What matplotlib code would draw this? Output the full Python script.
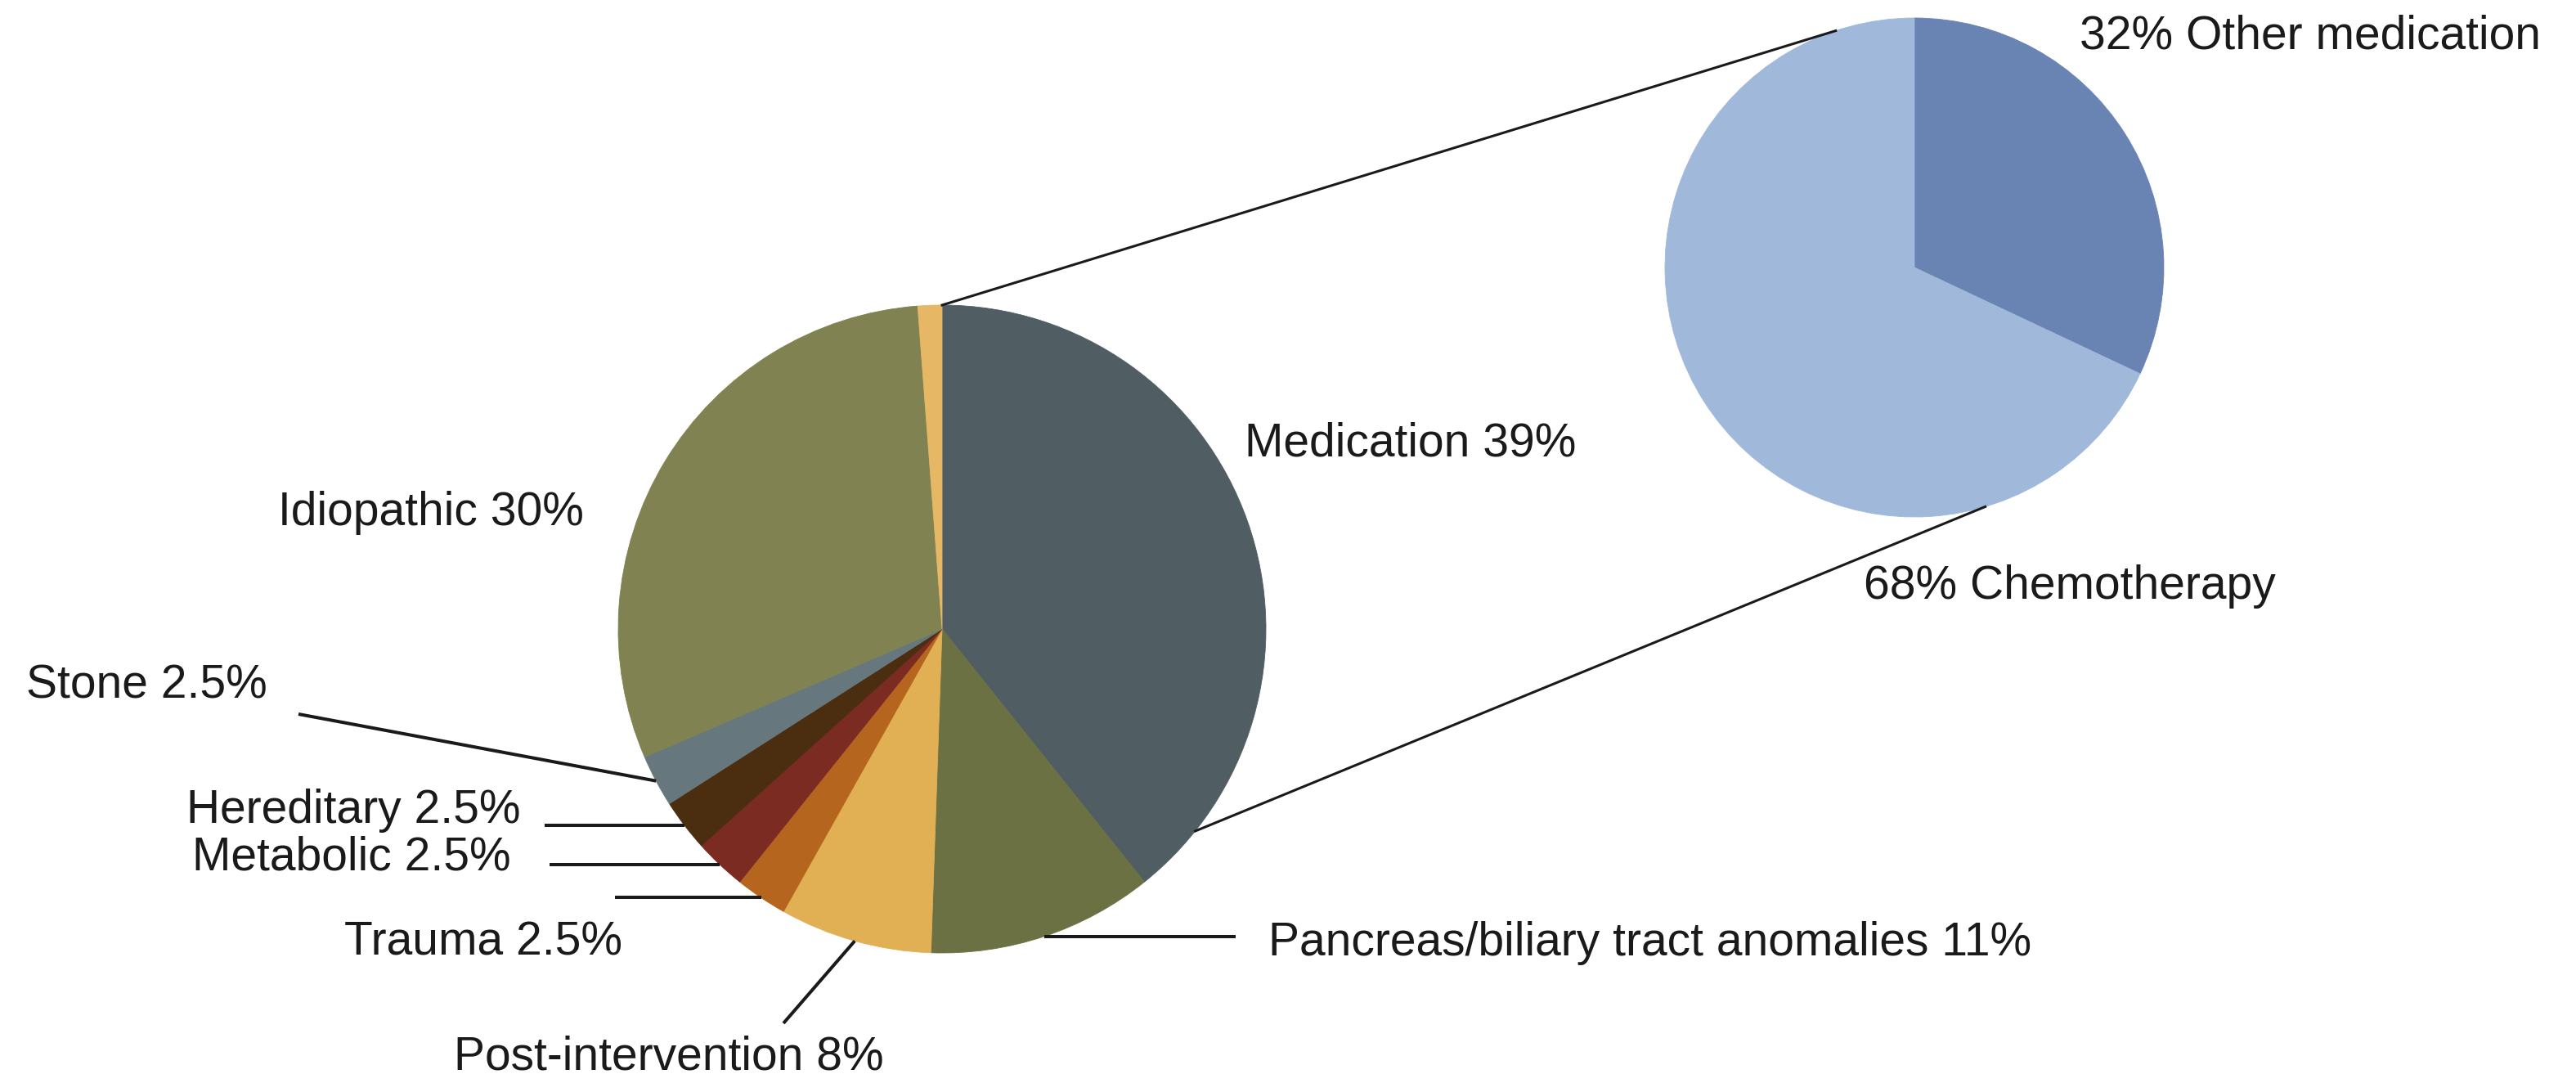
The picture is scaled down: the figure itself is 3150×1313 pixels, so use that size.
import numpy as np
import matplotlib.pyplot as plt

plt.rcParams['font.family'] = ['Liberation Sans', 'DejaVu Sans']

W, H = 3150, 1313

# main pie: causes, clockwise from 12 o'clock
causes = ['Medication', 'Pancreas/biliary tract anomalies', 'Post-intervention',
          'Trauma', 'Metabolic', 'Hereditary', 'Stone', 'Idiopathic', 'Other']
cause_shares = [39.3, 11.3, 7.6, 2.6, 2.6, 2.6, 2.6, 30.3, 1.2]
cause_labels = ['Medication 39%', 'Pancreas/biliary tract anomalies 11%',
                'Post-intervention 8%', 'Trauma 2.5%', 'Metabolic 2.5%',
                'Hereditary 2.5%', 'Stone 2.5%', 'Idiopathic 30%', '']
cause_colors = ['#505e64', '#6c7143', '#e1b055', '#b5651d', '#7b2b22',
                '#4b2d0f', '#66787d', '#808251', '#e6b865']

# breakdown of medication
med_types = ['Other medication', 'Chemotherapy']
med_shares = [32, 68]
med_labels = ['32% Other medication', '68% Chemotherapy']
med_colors = ['#6983b3', '#a0b8d9']

# layout, in image pixels (y from top)
main_c, main_r = (1152, 769), 396
sub_c, sub_r = (2341, 327), 305
cause_text_pos = [(1522, 558), (1551, 1168), (555, 1307), (421, 1167),
                  (235, 1064), (228, 1006), (32, 853), (340, 642), None]
# outer end of leader line; None y -> horizontal leader
leader_end = [None, (1511, None), (958, 1251), (752, None), (672, None),
              (666, None), (365, 873), None, None]
med_text_pos = [(2543, 59), (2279, 732)]
# connector lines: (angle on main pie, angle on sub pie)
connectors = [(90.0, 108.4), (-38.6, -73.5)]

FS = 41
TXT = '#1a1a1a'


def Y(y):
    return H - y


fig = plt.figure(figsize=(W / 100, H / 100), dpi=100)
ax = fig.add_axes([0, 0, 1, 1])

wedges, _ = ax.pie(cause_shares, colors=cause_colors, startangle=90,
                   counterclock=False, radius=main_r,
                   center=(main_c[0], Y(main_c[1])),
                   wedgeprops=dict(linewidth=0.6))
sub_wedges, _ = ax.pie(med_shares, colors=med_colors, startangle=90,
                       counterclock=False, radius=sub_r,
                       center=(sub_c[0], Y(sub_c[1])),
                       wedgeprops=dict(linewidth=0.6))
for w in list(wedges) + list(sub_wedges):
    w.set_edgecolor(w.get_facecolor())

for w, lab, pos, end in zip(wedges, cause_labels, cause_text_pos, leader_end):
    if pos is not None:
        ax.text(pos[0], Y(pos[1]), lab, fontsize=FS, color=TXT,
                ha='left', va='baseline')
    if end is not None:
        mid = np.deg2rad((w.theta1 + w.theta2) / 2)
        sx = main_c[0] + main_r * np.cos(mid)
        sy = Y(main_c[1]) + main_r * np.sin(mid)
        ey = sy if end[1] is None else Y(end[1])
        ax.plot([sx, end[0]], [sy, ey], color='#1a1a1a', lw=2.9,
                solid_capstyle='butt')

for lab, pos in zip(med_labels, med_text_pos):
    ax.text(pos[0], Y(pos[1]), lab, fontsize=FS, color=TXT,
            ha='left', va='baseline')

for a_main, a_sub in connectors:
    a1, a2 = np.deg2rad(a_main), np.deg2rad(a_sub)
    x1 = main_c[0] + main_r * np.cos(a1)
    y1 = Y(main_c[1]) + main_r * np.sin(a1)
    x2 = sub_c[0] + sub_r * np.cos(a2)
    y2 = Y(sub_c[1]) + sub_r * np.sin(a2)
    ax.plot([x1, x2], [y1, y2], color='#1a1a1a', lw=2.2)

ax.set_xlim(0, W)
ax.set_ylim(0, H)
ax.set_aspect('equal')
ax.axis('off')

fig.savefig('out.png', dpi=100, facecolor='white')
